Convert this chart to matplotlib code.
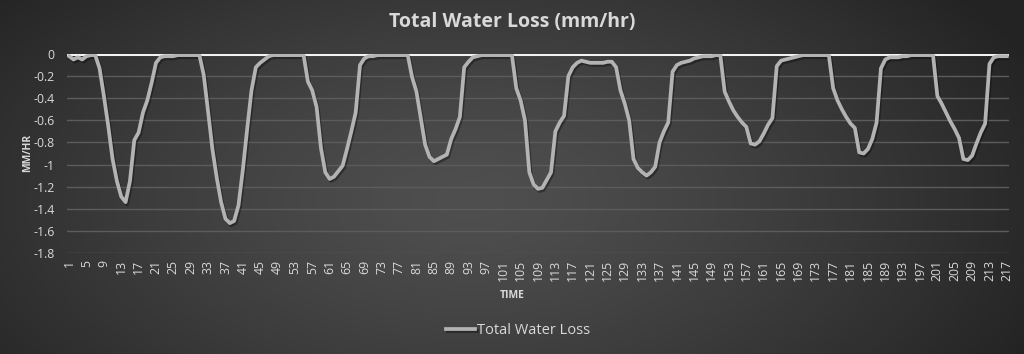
"""
Plot of total water loss (mm/hr) over time steps, dark Excel-like style.
"""
import numpy as np
import matplotlib
matplotlib.use("Agg")
import matplotlib.pyplot as plt
import matplotlib.patheffects as pe

# Chart data
title = "Total Water Loss (mm/hr)"
series_name = "Total Water Loss"
x_label = "TIME"
y_label = "MM/HR"

water_loss = [
    -0.02, -0.05, -0.03, -0.05, -0.02, -0.01, -0.01, -0.13, -0.38, -0.65,
    -0.95, -1.15, -1.29, -1.34, -1.15, -0.78, -0.71, -0.53, -0.42, -0.26,
    -0.08, -0.03, -0.02, -0.02, -0.02, -0.01, -0.01, -0.01, -0.01, -0.01,
    -0.01, -0.19, -0.52, -0.86, -1.12, -1.34, -1.49, -1.53, -1.51, -1.37,
    -1.05, -0.68, -0.33, -0.12, -0.08, -0.05, -0.02, -0.01, -0.01, -0.01,
    -0.01, -0.01, -0.01, -0.01, -0.01, -0.25, -0.33, -0.48, -0.85, -1.07,
    -1.13, -1.11, -1.06, -1.01, -0.86, -0.70, -0.53, -0.10, -0.04, -0.02,
    -0.02, -0.01, -0.01, -0.01, -0.01, -0.01, -0.01, -0.01, -0.01, -0.21,
    -0.34, -0.58, -0.82, -0.93, -0.97, -0.95, -0.93, -0.91, -0.77, -0.68,
    -0.57, -0.12, -0.07, -0.03, -0.02, -0.01, -0.01, -0.01, -0.01, -0.01,
    -0.01, -0.01, -0.01, -0.31, -0.42, -0.60, -1.07, -1.18, -1.22, -1.21,
    -1.14, -1.07, -0.70, -0.62, -0.56, -0.20, -0.12, -0.08, -0.06, -0.07,
    -0.08, -0.08, -0.08, -0.08, -0.07, -0.07, -0.12, -0.33, -0.45, -0.60,
    -0.95, -1.03, -1.07, -1.10, -1.07, -1.02, -0.80, -0.70, -0.62, -0.16,
    -0.10, -0.08, -0.07, -0.06, -0.04, -0.03, -0.02, -0.02, -0.02, -0.01,
    -0.01, -0.34, -0.43, -0.51, -0.57, -0.62, -0.66, -0.81, -0.82, -0.79,
    -0.72, -0.64, -0.58, -0.11, -0.06, -0.05, -0.04, -0.03, -0.02, -0.01,
    -0.01, -0.01, -0.01, -0.01, -0.01, -0.01, -0.31, -0.42, -0.50, -0.57,
    -0.63, -0.67, -0.89, -0.90, -0.86, -0.77, -0.62, -0.13, -0.05, -0.03,
    -0.03, -0.03, -0.02, -0.02, -0.01, -0.01, -0.01, -0.01, -0.01, -0.01,
    -0.38, -0.45, -0.53, -0.61, -0.68, -0.76, -0.95, -0.96, -0.92, -0.81,
    -0.71, -0.63, -0.09, -0.03, -0.02, -0.02, -0.02,
]
time_steps = list(range(1, len(water_loss) + 1))
x_tick_labels = [str(t) for t in time_steps[::4]]
y_ticks = [0, -0.2, -0.4, -0.6, -0.8, -1, -1.2, -1.4, -1.6, -1.8]

TEXT = "#d9d9d9"
LINE = "#b3b3b3"
GRID = "#5c5c5c"
FONT = ["Open Sans", "DejaVu Sans"]


def draw_background(fig):
    """Radial dark-gray gradient behind everything."""
    bg = fig.add_axes([0, 0, 1, 1], zorder=-10)
    h, w = 354, 1024
    yy, xx = np.mgrid[0:h, 0:w]
    r = np.sqrt(((xx - 470) / 620.0) ** 2 + ((yy - 200) / 330.0) ** 2)
    r = np.clip(r, 0, 1)
    inner, outer = 0.31, 0.14
    shade = inner + (outer - inner) * r ** 1.3
    img = np.dstack([shade, shade, shade])
    bg.imshow(img, aspect="auto", extent=[0, 1, 0, 1])
    bg.set_axis_off()


def main():
    plt.rcParams["font.family"] = FONT
    fig = plt.figure(figsize=(10.24, 3.54), dpi=100)
    draw_background(fig)

    ax = fig.add_axes([67 / 1024, 1 - 253 / 354, 942 / 1024, 199 / 354])
    ax.set_facecolor("none")

    # Gridlines and the white zero axis at the top
    for yv in y_ticks[1:]:
        ax.axhline(yv, color=GRID, lw=1.0, zorder=1)
    ax.axhline(0, color="#f2f2f2", lw=2.2, zorder=2)

    ax.plot(time_steps, water_loss, color=LINE, lw=2.7, zorder=3,
            solid_joinstyle="round", label=series_name,
            path_effects=[pe.SimpleLineShadow(offset=(1, -1.5), shadow_color="black", alpha=0.35),
                          pe.Normal()])

    ax.set_xlim(0.5, len(water_loss) + 0.5)
    ax.set_ylim(-1.8, 0)
    ax.set_yticks(y_ticks)
    ax.set_yticklabels(["0" if v == 0 else f"{v:g}" for v in y_ticks])
    ax.set_xticks(time_steps[::4])
    ax.set_xticklabels(x_tick_labels, rotation=90)
    ax.tick_params(axis="both", length=0, colors=TEXT, labelsize=8.8)
    ax.tick_params(axis="x", pad=5)
    ax.tick_params(axis="y", pad=9)
    for spine in ax.spines.values():
        spine.set_visible(False)

    fig.text(0.5, 1 - 22 / 354, title, ha="center", va="center",
             color=TEXT, fontsize=14, fontweight="bold")
    fig.text(512 / 1024, 1 - 295 / 354, x_label, ha="center", va="center",
             color=TEXT, fontsize=7.5, fontweight="bold")
    fig.text(28 / 1024, 1 - 153 / 354, y_label, ha="center", va="center",
             rotation=90, color=TEXT, fontsize=7.5, fontweight="bold")

    leg = fig.legend(loc="center", bbox_to_anchor=(518 / 1024, 1 - 331 / 354),
                     frameon=False, fontsize=10.5, handlelength=2.0,
                     handletextpad=0.1)
    for text in leg.get_texts():
        text.set_color(TEXT)

    fig.savefig("out.png", dpi=100)


if __name__ == "__main__":
    main()
